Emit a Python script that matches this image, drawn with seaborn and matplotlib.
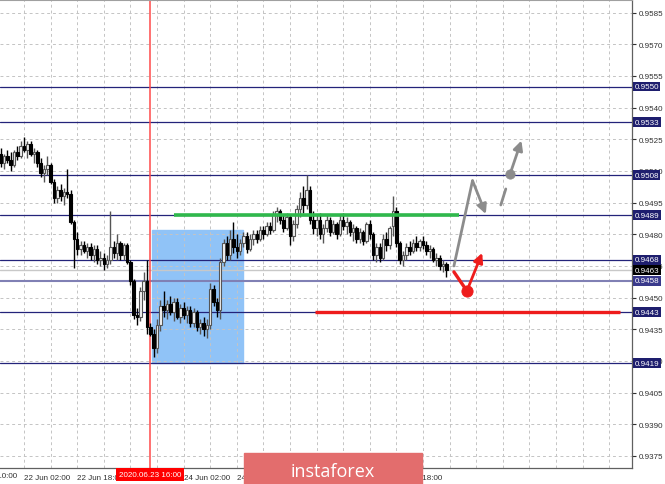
import numpy as np
import pandas as pd
import matplotlib
matplotlib.use("Agg")
import matplotlib.pyplot as plt
import matplotlib.transforms as mtransforms
from matplotlib.patches import Rectangle
import seaborn as sns

# ── hourly bars, hour 0 = 22 Jun 02:00 ─────────────────────────────────────────
first_hour = -7
opens = [
    .9518, .9514, .9517, .9515, .9513, .9519, .9517, .9522, .9520, .9523,
    .9518, .9519, .9514, .9509, .9511, .9513, .9505, .9497, .9501, .9498,
    .9500, .9499, .9486, .9478, .9473, .9475, .9472, .9474, .9470, .9473,
    .9468, .9469, .9466, .9468, .9474, .9471, .9476, .9470, .9475, .9467,
    .9458, .9442, .9441, .9453, .9458, .9436, .9433, .9426, .9437, .9446,
    .9444, .9447, .9443, .9448, .9441, .9445, .9442, .9444, .9438, .9443,
    .9436, .9438, .9435, .9437, .9454, .9448, .9444, .9467, .9476, .9470,
    .9478, .9474, .9472, .9476, .9479, .9473, .9478, .9480, .9478, .9482,
    .9480, .9484, .9482, .9489, .9491, .9487, .9483, .9488, .9479, .9485,
    .9492, .9497, .9494, .9501, .9487, .9483, .9487, .9480, .9483, .9487,
    .9481, .9485, .9480, .9487, .9484, .9486, .9481, .9483, .9478, .9481,
    .9477, .9485, .9480, .9470, .9474, .9469, .9478, .9475, .9484, .9491,
    .9476, .9468, .9470, .9474, .9472, .9476, .9474, .9477, .9475, .9472,
    .9473, .9468, .9469, .9465, .9466,
]
highs = [
    .9521, .9518, .9520, .9519, .9520, .9522, .9524, .9526, .9524, .9524,
    .9521, .9520, .9516, .9513, .9517, .9514, .9506, .9503, .9504, .9502,
    .9511, .9501, .9487, .9481, .9477, .9477, .9476, .9476, .9475, .9475,
    .9472, .9471, .9470, .9491, .9477, .9480, .9477, .9476, .9476, .9468,
    .9459, .9445, .9455, .9462, .9468, .9438, .9435, .9440, .9449, .9453,
    .9449, .9451, .9450, .9450, .9447, .9448, .9446, .9446, .9445, .9444,
    .9440, .9441, .9440, .9457, .9456, .9450, .9469, .9478, .9479, .9482,
    .9486, .9480, .9478, .9481, .9481, .9480, .9482, .9482, .9484, .9484,
    .9486, .9486, .9491, .9493, .9492, .9489, .9490, .9489, .9487, .9494,
    .9500, .9503, .9508, .9503, .9491, .9489, .9490, .9485, .9489, .9488,
    .9487, .9486, .9489, .9490, .9488, .9487, .9485, .9484, .9483, .9482,
    .9486, .9487, .9481, .9476, .9476, .9480, .9481, .9484, .9498, .9493,
    .9477, .9472, .9476, .9477, .9478, .9479, .9478, .9479, .9477, .9475,
    .9474, .9471, .9470, .9468, .9467,
]
lows = [
    .9512, .9511, .9514, .9510, .9512, .9515, .9516, .9519, .9516, .9517,
    .9514, .9512, .9507, .9505, .9508, .9504, .9495, .9495, .9496, .9494,
    .9497, .9485, .9464, .9470, .9470, .9471, .9469, .9468, .9467, .9466,
    .9465, .9463, .9464, .9466, .9469, .9468, .9468, .9468, .9466, .9456,
    .9440, .9437, .9439, .9449, .9433, .9432, .9422, .9424, .9434, .9441,
    .9440, .9442, .9439, .9440, .9438, .9440, .9438, .9436, .9436, .9434,
    .9433, .9432, .9431, .9435, .9446, .9441, .9440, .9465, .9468, .9468,
    .9471, .9469, .9470, .9474, .9471, .9472, .9475, .9476, .9477, .9478,
    .9479, .9480, .9481, .9486, .9485, .9481, .9482, .9475, .9477, .9483,
    .9488, .9490, .9492, .9485, .9480, .9479, .9478, .9476, .9481, .9479,
    .9480, .9478, .9479, .9482, .9480, .9479, .9477, .9476, .9476, .9475,
    .9476, .9478, .9468, .9467, .9467, .9468, .9472, .9473, .9479, .9474,
    .9466, .9465, .9468, .9470, .9471, .9472, .9472, .9473, .9470, .9469,
    .9467, .9465, .9463, .9462, .9460,
]
closes = [
    .9514, .9517, .9515, .9513, .9519, .9517, .9522, .9520, .9523, .9518,
    .9519, .9514, .9509, .9511, .9513, .9505, .9497, .9501, .9498, .9500,
    .9499, .9486, .9478, .9473, .9475, .9472, .9474, .9470, .9473, .9468,
    .9469, .9466, .9468, .9474, .9471, .9476, .9470, .9475, .9467, .9458,
    .9442, .9441, .9453, .9458, .9436, .9433, .9426, .9437, .9446, .9444,
    .9447, .9443, .9448, .9441, .9445, .9442, .9444, .9438, .9443, .9436,
    .9438, .9435, .9437, .9454, .9448, .9444, .9467, .9476, .9470, .9478,
    .9474, .9472, .9476, .9479, .9473, .9478, .9480, .9478, .9482, .9480,
    .9484, .9482, .9489, .9491, .9487, .9483, .9488, .9479, .9485, .9492,
    .9497, .9494, .9501, .9487, .9483, .9487, .9480, .9483, .9487, .9481,
    .9485, .9480, .9487, .9484, .9486, .9481, .9483, .9478, .9481, .9477,
    .9485, .9480, .9470, .9474, .9469, .9478, .9475, .9483, .9491, .9476,
    .9468, .9470, .9474, .9472, .9476, .9474, .9477, .9475, .9472, .9473,
    .9468, .9469, .9465, .9466, .9463,
]

# levels
level_prices = [0.9550, 0.9533, 0.9508, 0.9489, 0.9468, 0.9458, 0.9443, 0.9419]
current_price = 0.9463
green_level, green_span = 0.9489, (45.1, 130.8)
red_level, red_span = 0.9443, (87.5, 179.2)
box_hours, box_prices = (38.5, 66.0), (0.9419, 0.9482)
marker_hour, marker_label = 38, "2020.06.23 16:00"

# forecast arrows (hour, price)
gray_leg_t, gray_leg_p = [129.3, 134.9], [0.9465, 0.95054]
gray_arrow1 = ((134.9, 0.95054), (138.9, 0.94896))
gray_dash_t, gray_dash_p = [143.4, 144.9], [0.94939, 0.95015]
gray_dot = (146.2, 0.95086)
gray_arrow2 = ((146.2, 0.95086), (149.6, 0.95244))
red_leg_t, red_leg_p = [129.3, 133.2], [0.94622, 0.94532]
red_dot = (133.2, 0.94532)
red_arrow = ((133.2, 0.94532), (137.8, 0.94712))

# axis ticks
price_ticks = [round(0.9375 + 0.0015 * k, 4) for k in range(15)]
time_ticks = [0, 16, 32, 48, 64, 80, 96, 112]
time_labels = ["22 Jun 02:00", "22 Jun 18:00", "23 Jun 10:00", "24 Jun 02:00",
               "24 Jun 18:00", "25 Jun 10:00", "26 Jun 02:00", "26 Jun 18:00"]

# ═══════════════════════════════════════════════════════════════════════════════
sns.set_style("white")
plt.rcParams["font.family"] = ["Liberation Sans", "DejaVu Sans"]

NAVY, GRAY, RED = "#23237a", "#8c8c8c", "#ee1c1c"
FS = 5.8

fig = plt.figure(figsize=(6.65, 4.85), dpi=100)
ax = fig.add_axes([0, 16 / 485, 632 / 665, 468 / 485])
ax.set_xlim(-7.22, 182.86)
ax.set_ylim(0.93693, 0.95910)

# grid
for p in price_ticks:
    ax.axhline(p, color="#c4c4c4", lw=0.7, ls=(0, (3, 3)), zorder=1.5)
for t in range(-8, 184, 8):
    ax.axvline(t, color="#c4c4c4", lw=0.7, ls=(0, (3, 3)), zorder=1.5)

# blue rectangle
ax.add_patch(Rectangle((box_hours[0], box_prices[0]), box_hours[1] - box_hours[0],
                       box_prices[1] - box_prices[0], color="#90c3f7", zorder=1))

# horizontal levels
for p in level_prices:
    light = p == 0.9458
    ax.axhline(p, color="#8080b4" if light else NAVY, lw=1.5 if light else 0.9, zorder=2)
ax.axhline(current_price, color="#c8c8c8", lw=1.0, zorder=2)
ax.axvline(marker_hour, color="#ff4a4a", lw=1.1, zorder=2.5)

# candles
df = pd.DataFrame({"o": opens, "h": highs, "l": lows, "c": closes})
df["t"] = np.arange(len(df)) + first_hour
up = df[df.c >= df.o]
dn = df[df.c < df.o]
ax.vlines(up.t, up.l, up.h, color="#555555", lw=1.0, zorder=3)
ax.vlines(dn.t, dn.l, dn.h, color="black", lw=1.0, zorder=3)
ax.bar(up.t, up.c - up.o, bottom=up.o, width=0.75, color="#f4f4f4",
       edgecolor="#555555", lw=0.8, zorder=4)
ax.bar(dn.t, dn.o - dn.c, bottom=dn.c, width=0.75, color="black",
       edgecolor="black", lw=0.8, zorder=4)

# green / red levels
ax.hlines(green_level, *green_span, color="#2fb84c", lw=2.6, zorder=5)
ax.hlines(red_level, *red_span, color=RED, lw=2.4, zorder=5)

# forecast arrows
aprops = dict(arrowstyle="-|>", lw=2, shrinkA=0, shrinkB=0, mutation_scale=14)
ax.plot(gray_leg_t, gray_leg_p, color=GRAY, lw=2, solid_capstyle="round", zorder=6)
ax.annotate("", xy=gray_arrow1[1], xytext=gray_arrow1[0],
            arrowprops=dict(color=GRAY, **aprops), zorder=6)
ax.plot(gray_dash_t, gray_dash_p, color=GRAY, lw=2, zorder=6)
ax.annotate("", xy=gray_arrow2[1], xytext=gray_arrow2[0],
            arrowprops=dict(color=GRAY, **aprops), zorder=6)
ax.plot(red_leg_t, red_leg_p, color=RED, lw=2.4, zorder=6)
ax.annotate("", xy=red_arrow[1], xytext=red_arrow[0],
            arrowprops=dict(color=RED, **aprops), zorder=6)
sns.scatterplot(x=[gray_dot[0]], y=[gray_dot[1]], s=45, color=GRAY,
                edgecolor=GRAY, ax=ax, zorder=7)
sns.scatterplot(x=[red_dot[0]], y=[red_dot[1]], s=65, color=RED,
                edgecolor=RED, ax=ax, zorder=7)

# spines
ax.spines["left"].set_visible(False)
ax.spines["top"].set_color("#a0a0a0"); ax.spines["top"].set_linewidth(1.5)
for s in ("right", "bottom"):
    ax.spines[s].set_color("#606060"); ax.spines[s].set_linewidth(0.9)

# right price axis
ax.yaxis.tick_right()
ax.set_yticks(price_ticks)
ax.set_yticklabels([f"{p:.4f}" for p in price_ticks])
ax.tick_params(axis="y", labelsize=FS, length=3, pad=2, colors="#303030")
ytrans = mtransforms.blended_transform_factory(ax.transAxes, ax.transData)
for p in level_prices:
    fc = "#3a3a8c" if p == 0.9458 else "#1e1e6e"
    ax.text(1.004, p, f"{p:.4f}", transform=ytrans, fontsize=FS, color="white",
            va="center", ha="left", zorder=10, clip_on=False,
            bbox=dict(boxstyle="square,pad=0.18", fc=fc, ec="none"))
ax.text(1.004, current_price, f"{current_price:.4f}", transform=ytrans, fontsize=FS,
        color="white", va="center", ha="left", zorder=11, clip_on=False,
        bbox=dict(boxstyle="square,pad=0.18", fc="black", ec="none"))

# time axis
ax.set_xticks(time_ticks)
ax.set_xticklabels(time_labels, ha="left")
ax.tick_params(axis="x", labelsize=FS, length=3, pad=1.5, colors="#303030")
xtrans = mtransforms.blended_transform_factory(ax.transData, ax.transAxes)
ax.text(-16, -0.0075, "21 Jun 10:00", transform=xtrans, fontsize=FS, color="#303030",
        ha="left", va="top", clip_on=False)
ax.text(marker_hour, -0.014, marker_label, transform=xtrans, fontsize=FS, color="white",
        ha="center", va="center", zorder=12, clip_on=False,
        bbox=dict(boxstyle="square,pad=0.35", fc="#ff0000", ec="none"))

# watermark
fig.patches.append(Rectangle((244 / 665, 0), 178 / 665, 31 / 485, color="#e36d6d",
                             transform=fig.transFigure, zorder=20))
fig.text(333 / 665, 0.0175, "instaforex", color="white", fontsize=13,
         family="Open Sans", ha="center", va="baseline", zorder=21)

fig.savefig("out.png", dpi=100)
plt.close(fig)
